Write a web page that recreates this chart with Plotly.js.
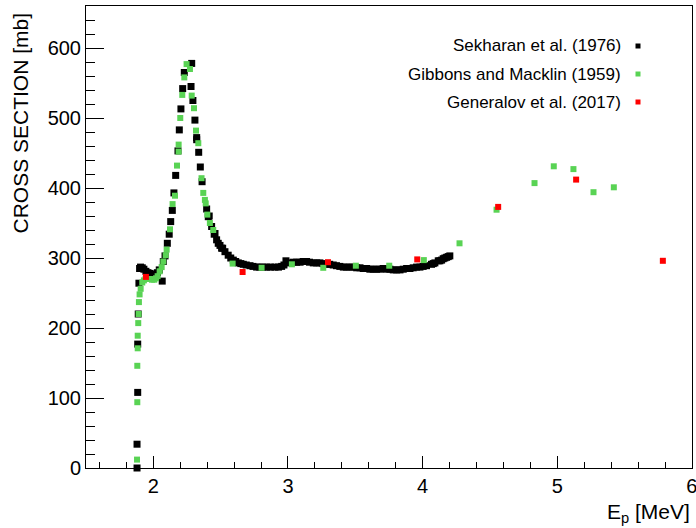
<!DOCTYPE html>
<html>
<head>
<meta charset="utf-8">
<script src="https://cdn.plot.ly/plotly-3.0.1.min.js"></script>
<style>
  html, body { margin: 0; padding: 0; background: #fff; }
  #chart { width: 696px; height: 528px; }
</style>
</head>
<body>
<div id="chart"></div>
<script>
// Sekharan et al. (1976): proton energy [MeV] and cross section [mb]
const sekharanE = [
  1.879, 1.879, 1.884, 1.884, 1.888, 1.893, 1.898, 1.905, 1.918, 1.930,
  1.945, 1.960, 1.975, 1.993, 2.012, 2.030, 2.044, 2.066, 2.074, 2.087,
  2.104, 2.118, 2.129, 2.141, 2.153, 2.166, 2.183, 2.193, 2.205, 2.218,
  2.230, 2.285, 2.280, 2.294, 2.309, 2.322, 2.322, 2.337, 2.349, 2.362,
  2.396, 2.408, 2.415, 2.433, 2.452, 2.458, 2.470, 2.482, 2.495, 2.507,
  2.515, 2.532, 2.556, 2.575, 2.594, 2.612, 2.631, 2.650, 2.668, 2.690,
  2.718, 2.740, 2.767, 2.790, 2.815, 2.842, 2.870, 2.903, 2.930, 2.953,
  2.970, 2.985, 3.015, 3.040, 3.064, 3.090, 3.113, 3.138, 3.160, 3.188,
  3.213, 3.237, 3.260, 3.287, 3.310, 3.336, 3.360, 3.385, 3.411, 3.435,
  3.460, 3.485, 3.510, 3.535, 3.559, 3.584, 3.608, 3.633, 3.658, 3.683,
  3.707, 3.732, 3.757, 3.782, 3.807, 3.832, 3.856, 3.881, 3.906, 3.930,
  3.955, 3.980, 4.004, 4.029, 4.066, 4.079, 4.091, 4.116, 4.128, 4.141,
  4.153, 4.165, 4.178, 4.190, 4.202
];
const sekharanXS = [
  0, 34, 108, 177, 220, 264, 285, 287, 286, 284,
  281, 279, 278, 277, 276, 279, 283, 267, 295, 303,
  321, 334, 352, 368, 393, 418, 453, 483, 513, 542,
  565, 578, 545, 525, 497, 472, 469, 451, 430, 409,
  370, 359, 360, 345, 334, 335, 326, 321, 318, 314,
  314, 309, 304, 300, 297, 295, 293, 292, 291, 290,
  289, 288, 287, 287, 287, 287, 287, 287, 287, 288,
  290, 296, 293, 294, 294, 294, 295, 295, 294, 293,
  293, 293, 292, 291, 291, 290, 289, 288, 287, 287,
  287, 287, 286, 286, 285, 285, 284, 284, 284, 284,
  285, 284, 284, 283, 283, 283, 284, 285, 285, 286,
  287, 287, 288, 289, 291, 292, 293, 296, 296, 297,
  299, 300, 301, 302, 303
];

// Gibbons and Macklin (1959)
const gibbonsE = [
  1.879, 1.881, 1.881, 1.884, 1.884, 1.888, 1.891, 1.893, 1.898, 1.906,
  1.918, 1.930, 1.943, 1.960, 1.975, 1.990, 2.007, 2.020, 2.032, 2.047,
  2.062, 2.074, 2.092, 2.099, 2.124, 2.143, 2.161, 2.176, 2.188, 2.188,
  2.200, 2.215, 2.230, 2.247, 2.272, 2.285, 2.302, 2.317, 2.334, 2.358,
  2.371, 2.383, 2.389, 2.401, 2.420, 2.445, 2.589, 2.804, 3.029, 3.262,
  3.504, 3.752, 4.009, 4.274, 4.549, 4.831, 4.974, 5.120, 5.269, 5.420
];
const gibbonsXS = [
  12, 94, 146, 171, 189, 207, 220, 237, 248, 256,
  265, 268, 270, 270, 270, 269, 269, 271, 274, 281,
  287, 295, 304, 312, 341, 377, 389, 432, 452, 462,
  500, 533, 558, 577, 570, 532, 514, 482, 464, 414,
  393, 383, 378, 362, 350, 340, 292, 286, 291, 286,
  289, 289, 297, 321, 369, 407, 431, 427, 394, 401
];

// Generalov et al. (2017)
const generalovE = [1.945, 2.663, 3.297, 3.960, 4.561, 5.140, 5.784];
const generalovXS = [273, 280, 294, 298, 373, 412, 296];

const seriesNames = ["Sekharan et al. (1976)", "Gibbons and Macklin (1959)", "Generalov et al. (2017)"];
const seriesColors = ["#000000", "#59d354", "#ff0000"];
const markerSizes = [7, 6, 6];

const xTitle = "E<sub>p</sub> [MeV]";
const yTitle = "CROSS SECTION [mb]";

// plot frame in page pixels
const W = 696, H = 528;
const frame = { l: 86, r: 692, t: 6, b: 468 };
const px2x = p => (p - frame.l) / (frame.r - frame.l);
const py2y = p => 1 - (p - frame.t) / (frame.b - frame.t);

const FONT = "Liberation Sans, Arial, Helvetica, sans-serif";

const seriesData = [[sekharanE, sekharanXS], [gibbonsE, gibbonsXS], [generalovE, generalovXS]];
const traces = seriesData.map((d, i) => ({
  type: "scatter",
  mode: "markers",
  x: d[0],
  y: d[1],
  name: seriesNames[i],
  cliponaxis: false,
  marker: { symbol: "square", size: markerSizes[i], color: seriesColors[i], line: { width: 0 } }
}));

// legend drawn at the upper right: right-aligned text, marker after it
const legendRows = [46, 74, 102];
const annotations = seriesNames.map((n, i) => ({
  xref: "paper", yref: "paper",
  x: px2x(623), y: py2y(legendRows[i]),
  xanchor: "right", yanchor: "middle",
  text: n, showarrow: false,
  font: { family: FONT, size: 17, color: "#000" }
}));
const shapes = seriesNames.map((n, i) => ({
  type: "rect", xref: "paper", yref: "paper",
  xsizemode: "pixel", ysizemode: "pixel",
  xanchor: px2x(638), yanchor: py2y(legendRows[i]),
  x0: -2.5, x1: 2.5, y0: -2.5, y1: 2.5,
  fillcolor: seriesColors[i], line: { width: 0 }
}));

annotations.push({
  xref: "paper", yref: "paper",
  x: px2x(20), y: py2y(11),
  xanchor: "center", yanchor: "top",
  textangle: -90,
  text: yTitle, showarrow: false,
  font: { family: FONT, size: 21, color: "#000" }
});
annotations.push({
  xref: "paper", yref: "paper",
  x: 1, y: py2y(498),
  xanchor: "right", yanchor: "top",
  text: xTitle, showarrow: false,
  font: { family: FONT, size: 21, color: "#000" }
});

const axisCommon = {
  showgrid: false, zeroline: false,
  showline: true, linecolor: "#000", linewidth: 1, mirror: true,
  ticks: "inside", tickcolor: "#000", tickwidth: 1,
  ticklabeloverflow: "allow",
  tickfont: { family: FONT, size: 20, color: "#000" }
};

const layout = {
  width: W, height: H,
  margin: { l: frame.l, r: W - frame.r, t: frame.t, b: H - frame.b, pad: 0 },
  paper_bgcolor: "#fff", plot_bgcolor: "#fff",
  showlegend: false,
  font: { family: FONT, color: "#000" },
  xaxis: Object.assign({}, axisCommon, {
    range: [1.5, 6.0005], tick0: 0, dtick: 1, ticklen: 12,
    minor: { tick0: 0, dtick: 0.2, ticks: "inside", ticklen: 6, tickcolor: "#000", tickwidth: 1 }
  }),
  yaxis: Object.assign({}, axisCommon, {
    range: [0, 660], tick0: 0, dtick: 100, ticklen: 18,
    minor: { tick0: 0, dtick: 20, ticks: "inside", ticklen: 9, tickcolor: "#000", tickwidth: 1 }
  }),
  annotations: annotations,
  shapes: shapes
};

Plotly.newPlot("chart", traces, layout, { staticPlot: true, displayModeBar: false });
</script>
</body>
</html>
